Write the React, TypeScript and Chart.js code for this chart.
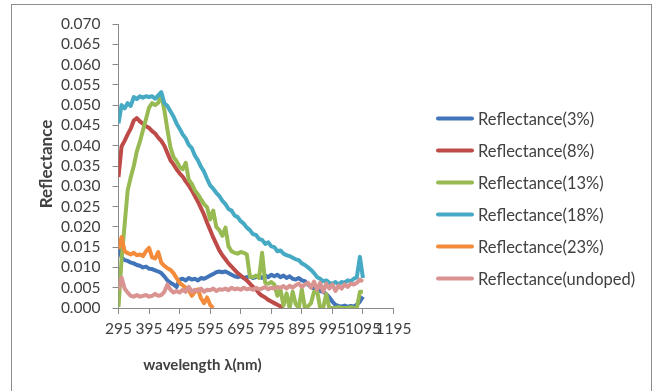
import { useEffect, useRef } from "react";
import { Chart, registerables } from "chart.js";

Chart.register(...registerables);

const wavelengths = [
  295, 305, 315, 325, 335, 345, 355, 365, 375, 385,
  395, 405, 415, 425, 435, 445, 455, 465, 475, 485,
  495, 505, 515, 525, 535, 545, 555, 565, 575, 585,
  595, 605, 615, 625, 635, 645, 655, 665, 675, 685,
  695, 705, 715, 725, 735, 745, 755, 765, 775, 785,
  795, 805, 815, 825, 835, 845, 855, 865, 875, 885,
  895, 905, 915, 925, 935, 945, 955, 965, 975, 985,
  995, 1005, 1015, 1025, 1035, 1045, 1055, 1065, 1075, 1085,
  1095,
];

const xTicks = [295, 395, 495, 595, 695, 795, 895, 995, 1095, 1195];
const yTicks = [0, 0.005, 0.01, 0.015, 0.02, 0.025, 0.03, 0.035, 0.04, 0.045, 0.05, 0.055, 0.06, 0.065, 0.07];

const r3 = [
  0.0150, 0.0125, 0.0118, 0.0116, 0.0112, 0.0110, 0.0106, 0.0104, 0.0100, 0.0102,
  0.0097, 0.0096, 0.0093, 0.0090, 0.0086, 0.0078, 0.0068, 0.0062, 0.0058, 0.0052,
  0.0070, 0.0072, 0.0068, 0.0074, 0.0070, 0.0072, 0.0068, 0.0074, 0.0072, 0.0076,
  0.0080, 0.0084, 0.0088, 0.0090, 0.0088, 0.0090, 0.0086, 0.0082, 0.0078, 0.0076,
  0.0078, 0.0074, 0.0076, 0.0078, 0.0074, 0.0076, 0.0078, 0.0074, 0.0080, 0.0076,
  0.0082, 0.0078, 0.0082, 0.0076, 0.0080, 0.0074, 0.0078, 0.0072, 0.0070, 0.0074,
  0.0068, 0.0066, 0.0058, 0.0052, 0.0048, 0.0046, 0.0042, 0.0040, 0.0034, 0.0026,
  0.0016, 0.0008, 0.0005, 0.0004, 0.0006, 0.0003, 0.0005, 0.0003, 0.0008, 0.0016,
  0.0028,
];

const r8 = [
  0.0323, 0.0398, 0.0412, 0.0428, 0.0442, 0.0462, 0.0468, 0.0460, 0.0454, 0.0448,
  0.0444, 0.0436, 0.0430, 0.0420, 0.0412, 0.0400, 0.0382, 0.0364, 0.0354, 0.0342,
  0.0332, 0.0324, 0.0312, 0.0302, 0.0290, 0.0276, 0.0262, 0.0246, 0.0230, 0.0210,
  0.0192, 0.0174, 0.0158, 0.0142, 0.0130, 0.0120, 0.0110, 0.0102, 0.0094, 0.0086,
  0.0080, 0.0074, 0.0068, 0.0060, 0.0052, 0.0046, 0.0036, 0.0030, 0.0026, 0.0020,
  0.0016, 0.0012, 0.0008, 0.0004, 0.0000, null, null, null, null, null,
  null, null, null, null, null, null, null, null, null, null,
  null, null, null, null, null, null, null, null, null, null,
  null,
];

const r13 = [
  0.0003, 0.0120, 0.0205, 0.0290, 0.0322, 0.0350, 0.0386, 0.0410, 0.0438, 0.0466,
  0.0494, 0.0505, 0.0500, 0.0506, 0.0525, 0.0488, 0.0440, 0.0396, 0.0372, 0.0362,
  0.0348, 0.0342, 0.0358, 0.0316, 0.0306, 0.0290, 0.0280, 0.0268, 0.0256, 0.0248,
  0.0218, 0.0240, 0.0200, 0.0192, 0.0178, 0.0198, 0.0152, 0.0140, 0.0136, 0.0134,
  0.0138, 0.0136, 0.0132, 0.0078, 0.0076, 0.0080, 0.0074, 0.0136, 0.0062, 0.0060,
  0.0064, 0.0058, 0.0030, 0.0046, 0.0006, 0.0036, 0.0000, 0.0040, 0.0010, 0.0000,
  0.0046, 0.0000, 0.0004, 0.0012, 0.0040, 0.0042, 0.0000, 0.0002, 0.0034, 0.0000,
  0.0000, 0.0000, 0.0002, 0.0000, 0.0000, 0.0000, 0.0002, 0.0000, 0.0000, 0.0040,
  0.0040,
];

const r18 = [
  0.0455, 0.0500, 0.0492, 0.0505, 0.0498, 0.0520, 0.0515, 0.0522, 0.0518, 0.0522,
  0.0520, 0.0522, 0.0516, 0.0524, 0.0532, 0.0505, 0.0498, 0.0485, 0.0472, 0.0455,
  0.0442, 0.0428, 0.0418, 0.0402, 0.0394, 0.0376, 0.0364, 0.0348, 0.0336, 0.0318,
  0.0302, 0.0294, 0.0284, 0.0276, 0.0264, 0.0256, 0.0244, 0.0240, 0.0228, 0.0224,
  0.0214, 0.0208, 0.0198, 0.0192, 0.0182, 0.0180, 0.0170, 0.0168, 0.0158, 0.0162,
  0.0152, 0.0150, 0.0140, 0.0142, 0.0134, 0.0130, 0.0128, 0.0124, 0.0120, 0.0118,
  0.0110, 0.0106, 0.0100, 0.0094, 0.0086, 0.0076, 0.0072, 0.0066, 0.0068, 0.0062,
  0.0060, 0.0064, 0.0058, 0.0064, 0.0062, 0.0068, 0.0066, 0.0072, 0.0076, 0.0126,
  0.0074,
];

const r23 = [
  0.0145, 0.0175, 0.0140, 0.0135, 0.0132, 0.0136, 0.0130, 0.0132, 0.0128, 0.0140,
  0.0148, 0.0125, 0.0122, 0.0138, 0.0112, 0.0104, 0.0098, 0.0094, 0.0086, 0.0074,
  0.0062, 0.0056, 0.0050, 0.0044, 0.0030, 0.0040, 0.0046, 0.0024, 0.0012, 0.0026,
  0.0008, 0.0000, null, null, null, null, null, null, null, null,
  null, null, null, null, null, null, null, null, null, null,
  null, null, null, null, null, null, null, null, null, null,
  null, null, null, null, null, null, null, null, null, null,
  null, null, null, null, null, null, null, null, null, null,
  null,
];

const rUndoped = [
  0.0045, 0.0075, 0.0048, 0.0038, 0.0030, 0.0028, 0.0032, 0.0028, 0.0030, 0.0032,
  0.0028, 0.0030, 0.0035, 0.0030, 0.0032, 0.0040, 0.0058, 0.0045, 0.0038, 0.0042,
  0.0038, 0.0045, 0.0040, 0.0052, 0.0040, 0.0045, 0.0042, 0.0048, 0.0040, 0.0045,
  0.0044, 0.0048, 0.0042, 0.0046, 0.0045, 0.0048, 0.0044, 0.0050, 0.0046, 0.0048,
  0.0045, 0.0050, 0.0046, 0.0048, 0.0045, 0.0050, 0.0046, 0.0048, 0.0052, 0.0046,
  0.0050, 0.0048, 0.0052, 0.0050, 0.0054, 0.0048, 0.0055, 0.0050, 0.0056, 0.0060,
  0.0052, 0.0058, 0.0062, 0.0050, 0.0065, 0.0045, 0.0062, 0.0040, 0.0060, 0.0048,
  0.0058, 0.0042, 0.0055, 0.0048, 0.0058, 0.0052, 0.0060, 0.0058, 0.0062, 0.0070,
  0.0065,
];

const seriesLabels = [
  "Reflectance(3%)",
  "Reflectance(8%)",
  "Reflectance(13%)",
  "Reflectance(18%)",
  "Reflectance(23%)",
  "Reflectance(undoped)",
];
const seriesValues = [r3, r8, r13, r18, r23, rUndoped];
const seriesColors = ["#4174B8", "#BE4B48", "#98BA53", "#47AAC4", "#F38B3A", "#D99390"];

const FONT = "Lato, Carlito, sans-serif";
const TEXT = "#404040";
const AXIS = "#8a8a8a";

const overlayPlugin = {
  id: "overlay",
  afterDraw(chart: any) {
    const ctx = chart.ctx;
    const area = chart.chartArea;
    ctx.save();
    ctx.fillStyle = TEXT;
    ctx.textAlign = "center";
    ctx.textBaseline = "middle";
    ctx.font = `bold 15px ${FONT}`;
    ctx.fillText("wavelength \u03bb(nm)", area.left + 84, 365);
    ctx.save();
    ctx.font = `bold 17px ${FONT}`;
    ctx.translate(47, (area.top + area.bottom) / 2 - 2);
    ctx.rotate(-Math.PI / 2);
    ctx.fillText("Reflectance", 0, 0);
    ctx.restore();
    ctx.font = `16.5px ${FONT}`;
    ctx.textAlign = "left";
    chart.data.datasets.forEach((ds: any, i: number) => {
      const y = 118.5 + i * 32;
      ctx.strokeStyle = ds.borderColor;
      ctx.lineWidth = 4;
      ctx.lineCap = "round";
      ctx.beginPath();
      ctx.moveTo(438, y);
      ctx.lineTo(472, y);
      ctx.stroke();
      ctx.fillStyle = TEXT;
      ctx.fillText(ds.label, 478, y + 1);
    });
    ctx.restore();
  },
};

export default function App() {
  const canvasRef = useRef<HTMLCanvasElement | null>(null);

  useEffect(() => {
    const canvas = canvasRef.current;
    if (!canvas) return;
    const datasets = seriesLabels.map((label, i) => ({
      label,
      data: wavelengths.map((w, k) => ({ x: w, y: seriesValues[i][k] })),
      borderColor: seriesColors[i],
      backgroundColor: seriesColors[i],
      borderWidth: 4,
      pointRadius: 0,
      tension: 0,
      spanGaps: false,
      borderJoinStyle: "round" as const,
      order: seriesLabels.length - i,
    }));

    const chart = new Chart(canvas, {
      type: "line",
      data: { datasets },
      options: {
        animation: false,
        responsive: false,
        maintainAspectRatio: false,
        devicePixelRatio: 1,
        layout: { padding: { left: 0, right: 662 - 393.5, top: 24, bottom: 0 } },
        plugins: { legend: { display: false }, tooltip: { enabled: false } },
        scales: {
          x: {
            type: "linear",
            min: 295,
            max: 1195,
            afterBuildTicks: (s: any) => {
              s.ticks = xTicks.map((v) => ({ value: v }));
            },
            afterFit: (s: any) => {
              s.height = 391 - 308;
            },
            grid: {
              display: true,
              drawOnChartArea: false,
              drawTicks: true,
              tickLength: 6,
              color: AXIS,
            },
            border: { display: true, color: AXIS, width: 1 },
            ticks: {
              autoSkip: false,
              maxRotation: 0,
              minRotation: 0,
              padding: 6,
              color: TEXT,
              font: { family: FONT, size: 15.5 },
              callback: (v: any) => String(v),
            },
          },
          y: {
            type: "linear",
            min: 0,
            max: 0.07,
            afterBuildTicks: (s: any) => {
              s.ticks = yTicks.map((v) => ({ value: v }));
            },
            afterFit: (s: any) => {
              s.width = 118.5;
            },
            grid: {
              display: true,
              drawOnChartArea: false,
              drawTicks: true,
              tickLength: 6,
              color: AXIS,
            },
            border: { display: true, color: AXIS, width: 1 },
            ticks: {
              autoSkip: false,
              padding: 12,
              color: TEXT,
              font: { family: FONT, size: 15.5 },
              callback: (v: any) => Number(v).toFixed(3),
            },
          },
        },
      },
      plugins: [overlayPlugin],
    });
    return () => chart.destroy();
  }, []);

  return (
    <div style={{ position: "absolute", left: 0, top: 0, width: 662, height: 391, background: "#fff", overflow: "hidden" }}>
      <div
        style={{
          position: "absolute",
          left: 11,
          top: 4,
          width: 641,
          height: 400,
          border: "1px solid #8c8c8c",
          boxSizing: "border-box",
        }}
      />
      <canvas ref={canvasRef} width={662} height={391} style={{ position: "absolute", left: 0, top: 0, display: "block" }} />
    </div>
  );
}
